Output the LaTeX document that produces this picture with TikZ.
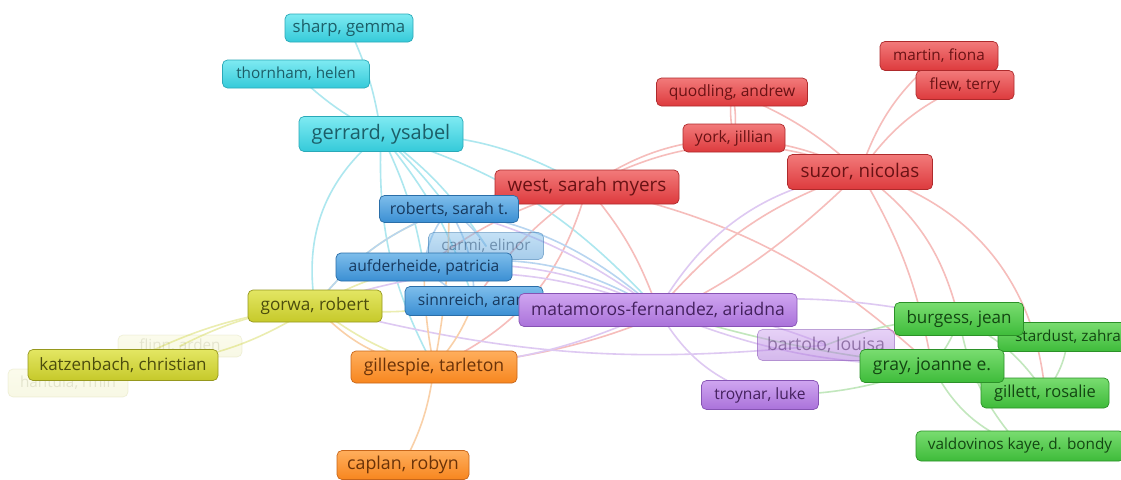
\documentclass[tikz,border=0pt]{standalone}
\usepackage{fontspec}
\setmainfont{Open Sans}
\usetikzlibrary{backgrounds}
\definecolor{cyT}{HTML}{7EEAF2}\definecolor{cyB}{HTML}{35CAD9}\definecolor{cyD}{HTML}{2AA9B8}\definecolor{cyX}{HTML}{1C5E68}\definecolor{cyE}{HTML}{ADE7EF}
\definecolor{blT}{HTML}{7DBDEB}\definecolor{blB}{HTML}{3B8FD3}\definecolor{blD}{HTML}{2A6EA8}\definecolor{blX}{HTML}{17395E}\definecolor{blE}{HTML}{B8D5F0}
\definecolor{rdT}{HTML}{F27A7A}\definecolor{rdB}{HTML}{DD3A3D}\definecolor{rdD}{HTML}{AE2A2C}\definecolor{rdX}{HTML}{6A1214}\definecolor{rdE}{HTML}{F6BDBB}
\definecolor{ylT}{HTML}{E3E663}\definecolor{ylB}{HTML}{C6C92A}\definecolor{ylD}{HTML}{96981E}\definecolor{ylX}{HTML}{4C4D0D}\definecolor{ylE}{HTML}{EBEDB0}
\definecolor{orT}{HTML}{FFAE5C}\definecolor{orB}{HTML}{F7861F}\definecolor{orD}{HTML}{C8661A}\definecolor{orX}{HTML}{6A3208}\definecolor{orE}{HTML}{F9D0A8}
\definecolor{puT}{HTML}{CFA5F0}\definecolor{puB}{HTML}{AA72DA}\definecolor{puD}{HTML}{8653B4}\definecolor{puX}{HTML}{44215E}\definecolor{puE}{HTML}{DEC9F2}
\definecolor{grT}{HTML}{79DC70}\definecolor{grB}{HTML}{3EBB3A}\definecolor{grD}{HTML}{2B9128}\definecolor{grX}{HTML}{134612}\definecolor{grE}{HTML}{C2E7BD}
\tikzset{
 box/.style={rounded corners=5pt, line width=0.7pt, inner sep=0pt, font=\fontsize{15.3}{15.3}\selectfont},
 fs/.style={font=\fontsize{#1}{#1}\selectfont},
 cy/.style={box, top color=cyT, bottom color=cyB, draw=cyD, text=cyX},
 bl/.style={box, top color=blT, bottom color=blB, draw=blD, text=blX},
 rd/.style={box, top color=rdT, bottom color=rdB, draw=rdD, text=rdX},
 yl/.style={box, top color=ylT, bottom color=ylB, draw=ylD, text=ylX},
 or/.style={box, top color=orT, bottom color=orB, draw=orD, text=orX},
 pu/.style={box, top color=puT, bottom color=puB, draw=puD, text=puX},
 gr/.style={box, top color=grT, bottom color=grB, draw=grD, text=grX},
 ed/.style={line width=1.6pt, line cap=round},
}
\begin{document}
\begin{tikzpicture}[x=1pt,y=-1pt]
\useasboundingbox (0,0) rectangle (1121,479);
% faint nodes
\node[yl, opacity=0.12, minimum width=124pt, minimum height=22pt] (flinn) at (180,346) {flinn, arden};
\node[yl, opacity=0.12, minimum width=120pt, minimum height=28pt] (hantula) at (68,383) {hantula, rmin};
% cyan
\node[cy, fs=16.8, minimum width=128pt, minimum height=28pt] (sharp) at (349,28) {sharp, gemma};
\node[cy, minimum width=147pt, minimum height=28pt] (thornham) at (296,74) {thornham, helen};
\node[cy, fs=20, minimum width=164pt, minimum height=35pt] (gerrard) at (381,134) {gerrard, ysabel};
% red
\node[rd, fs=15.6, minimum width=151pt, minimum height=28pt] (quodling) at (732,92) {quodling, andrew};
\node[rd, fs=15.7, minimum width=102pt, minimum height=28pt] (york) at (734,138) {york, jillian};
\node[rd, minimum width=118pt, minimum height=29pt] (martin) at (939,56) {martin, fiona};
\node[rd, minimum width=98pt, minimum height=29pt] (flew) at (965,85) {flew, terry};
\node[rd, fs=18.8, minimum width=145pt, minimum height=35pt] (suzor) at (860,172) {suzor, nicolas};
\node[rd, fs=18.9, minimum width=184pt, minimum height=34pt] (west) at (587,187) {west, sarah myers};
% blue
\node[bl, fs=16, minimum width=139pt, minimum height=27pt] (roberts) at (449,209) {roberts, sarah t.};
\node[bl, opacity=0.45, minimum width=115pt, minimum height=27pt] (carmi) at (486,246) {carmi, elinor};
\node[bl, fs=15.6, minimum width=176pt, minimum height=28pt] (aufderheide) at (424,267) {aufderheide, patricia};
\node[bl, fs=15.6, minimum width=138pt, minimum height=29pt] (sinnreich) at (474,301) {sinnreich, aram};
% yellow
\node[yl, fs=17.2, minimum width=134pt, minimum height=32pt] (gorwa) at (315,306) {gorwa, robert};
\node[yl, fs=17, minimum width=190pt, minimum height=31pt] (katzenbach) at (123,365) {katzenbach, christian};
% orange
\node[or, fs=17.6, minimum width=166pt, minimum height=32pt] (gillespie) at (434,367) {gillespie, tarleton};
\node[or, fs=17.8, minimum width=132pt, minimum height=29pt] (caplan) at (403,465) {caplan, robyn};
% purple
\node[pu, fs=17.5, minimum width=278pt, minimum height=33pt] (matamoros) at (658,310) {matamoros-fernandez, ariadna};
\node[pu, fs=17.7, opacity=0.5, minimum width=137pt, minimum height=31pt] (bartolo) at (826,345) {bartolo, louisa};
\node[pu, fs=15.6, minimum width=117pt, minimum height=29pt] (troynar) at (760,395) {troynar, luke};
% green
\node[gr, fs=15.3, minimum width=140pt, minimum height=29pt] (stardust) at (1068,337) {stardust, zahra};
\node[gr, fs=17, minimum width=129pt, minimum height=33pt] (burgess) at (959,319) {burgess, jean};
\node[gr, fs=16.5, minimum width=128pt, minimum height=30pt] (gillett) at (1045,393) {gillett, rosalie};
\node[gr, fs=17.5, minimum width=144pt, minimum height=33pt] (gray) at (932,366) {gray, joanne e.};
\node[gr, fs=15.3, minimum width=208pt, minimum height=30pt] (valdovinos) at (1020,446) {valdovinos kaye, d. bondy};

\begin{scope}[on background layer]
\fill[white] (0,0) rectangle (1121,479);
\begin{scope}[ed]
% cyan
\draw[cyE] (sharp.center) to[bend left=8] (gerrard.center);
\draw[cyE] (thornham.center) to[bend right=8] (gerrard.center);
\draw[cyE] (gerrard.center) to[bend left=5] (roberts.center);
\draw[cyE] (gerrard.center) to[bend left=8] (aufderheide.center);
\draw[cyE] (gerrard.center) to[bend left=10] (sinnreich.center);
\draw[cyE] (gerrard.center) to[bend left=10] (carmi.center);
\draw[cyE] (gerrard.center) to[bend left=15] (west.center);
\draw[cyE] (gerrard.center) to[bend left=15] (matamoros.center);
\draw[cyE] (gerrard.center) to[bend right=30] (gorwa.center);
\draw[cyE] (gerrard.center) to[bend right=15] (gillespie.center);
% red
\draw[rdE] (west.center) to[bend left=15] (york.center);
\draw[rdE] (west.center) to[bend left=25] (suzor.center);
\draw[rdE] (quodling.center) to[bend right=10] (york.center);
\draw[rdE] (quodling.center) to[bend left=10] (york.center);
\draw[rdE] (quodling.center) to[bend left=10] (suzor.center);
\draw[rdE] (york.center) to[bend left=10] (suzor.center);
\draw[rdE] (suzor.center) to[bend left=15] (martin.center);
\draw[rdE] (suzor.center) to[bend left=15] (flew.center);
\draw[rdE] (suzor.center) to[bend left=20] (burgess.center);
\draw[rdE] (suzor.center) to[bend left=10] (gray.center);
\draw[rdE] (suzor.center) to[bend left=35] (gillett.center);
\draw[rdE] (suzor.center) to[bend right=15] (matamoros.center);
\draw[rdE] (suzor.center) to[bend left=20] (gillespie.center);
\draw[rdE] (west.center) to[bend right=10] (roberts.center);
\draw[rdE] (west.center) to[bend right=10] (aufderheide.center);
\draw[rdE] (west.center) to[bend right=10] (sinnreich.center);
\draw[rdE] (west.center) to[bend left=10] (matamoros.center);
\draw[rdE] (west.center) to[bend left=25] (gillespie.center);
\draw[rdE] (west.center) to[bend left=15] (gray.center);
% purple
\draw[puE] (matamoros.center) to[bend left=10] (bartolo.center);
\draw[puE] (matamoros.center) to[bend right=20] (troynar.center);
\draw[puE] (matamoros.center) to[bend right=10] (gray.center);
\draw[puE] (matamoros.center) to[bend left=10] (burgess.center);
\draw[puE] (matamoros.center) to[bend left=25] (suzor.center);
\draw[puE] (matamoros.center) to[bend right=10] (roberts.center);
\draw[puE] (matamoros.center) to[bend right=15] (aufderheide.center);
\draw[puE] (matamoros.center) to[bend left=10] (gillespie.center);
\draw[puE] (matamoros.center) to[bend right=20] (gorwa.center);
\draw[puE] (bartolo.center) to[bend left=10] (gorwa.center);
% green
\draw[grE] (burgess.center) to[bend left=10] (gray.center);
\draw[grE] (burgess.center) to[bend left=10] (stardust.center);
\draw[grE] (burgess.center) to[bend left=15] (gillett.center);
\draw[grE] (burgess.center) to[bend right=15] (valdovinos.center);
\draw[grE] (gray.center) to[bend right=10] (gillett.center);
\draw[grE] (gray.center) to[bend right=20] (valdovinos.center);
\draw[grE] (stardust.center) to[bend left=15] (gillett.center);
\draw[grE] (troynar.center) to[bend right=10] (gray.center);
\draw[grE] (bartolo.center) to[bend left=10] (burgess.center);
\draw[grE] (matamoros.center) to[bend right=5] (gray.center);
% yellow
\draw[ylE] (gorwa.center) to[bend right=10] (katzenbach.center);
\draw[ylE] (gorwa.center) to[bend left=15] (katzenbach.center);
\draw[ylE] (gorwa.center) to[bend right=10] (flinn.center);
\draw[ylE] (gorwa.center) to[bend left=10] (aufderheide.center);
\draw[ylE] (gorwa.center) to[bend right=10] (gillespie.center);
\draw[ylE] (gorwa.center) to[bend left=15] (roberts.center);
\draw[ylE] (gorwa.center) to[bend right=10] (sinnreich.center);
% orange
\draw[orE] (gillespie.center) to[bend left=10] (caplan.center);
\draw[orE] (gillespie.center) to[bend right=5] (roberts.center);
\draw[orE] (gillespie.center) to[bend left=5] (aufderheide.center);
\draw[orE] (gillespie.center) to[bend right=10] (sinnreich.center);
\draw[orE] (gillespie.center) to[bend left=20] (gorwa.center);
% blue
\draw[blE] (roberts.center) to[bend right=15] (aufderheide.center);
\draw[blE] (roberts.center) to[bend left=15] (sinnreich.center);
\draw[blE] (aufderheide.center) to[bend right=10] (sinnreich.center);
\draw[blE] (roberts.center) to[bend left=10] (carmi.center);
\draw[blE] (roberts.center) to[bend right=15] (gorwa.center);
\draw[blE] (sinnreich.center) to[bend left=10] (matamoros.center);
\draw[blE] (roberts.center) to[bend left=15] (matamoros.center);
\draw[blE] (aufderheide.center) to[bend left=20] (matamoros.center);
\end{scope}
\end{scope}
\end{tikzpicture}
\end{document}
